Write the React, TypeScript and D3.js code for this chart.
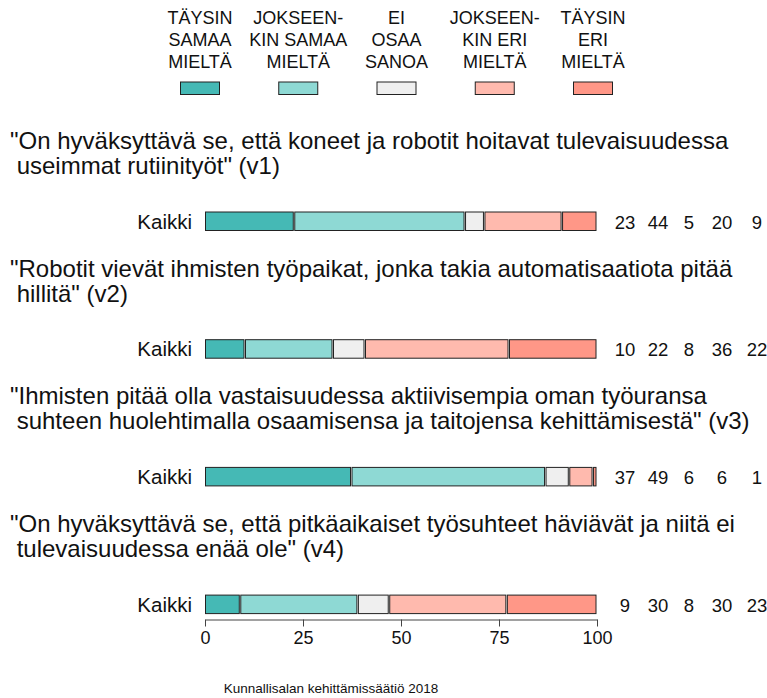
import React, { useEffect, useRef } from "react";
import * as d3 from "d3";

const categories = [
  "TÄYSIN SAMAA MIELTÄ",
  "JOKSEENKIN SAMAA MIELTÄ",
  "EI OSAA SANOA",
  "JOKSEENKIN ERI MIELTÄ",
  "TÄYSIN ERI MIELTÄ",
];
const legendLines = [
  ["TÄYSIN", "SAMAA", "MIELTÄ"],
  ["JOKSEEN-", "KIN SAMAA", "MIELTÄ"],
  ["EI", "OSAA", "SANOA"],
  ["JOKSEEN-", "KIN ERI", "MIELTÄ"],
  ["TÄYSIN", "ERI", "MIELTÄ"],
];
const colors = ["#45b9b5", "#8ed9d4", "#efefef", "#ffbaae", "#ff9787"];

const questions = [
  [
    "\"On hyväksyttävä se, että koneet ja robotit hoitavat tulevaisuudessa",
    " useimmat rutiinityöt\" (v1)",
  ],
  [
    "\"Robotit vievät ihmisten työpaikat, jonka takia automatisaatiota pitää",
    " hillitä\" (v2)",
  ],
  [
    "\"Ihmisten pitää olla vastaisuudessa aktiivisempia oman työuransa",
    " suhteen huolehtimalla osaamisensa ja taitojensa kehittämisestä\" (v3)",
  ],
  [
    "\"On hyväksyttävä se, että pitkäaikaiset työsuhteet häviävät ja niitä ei",
    " tulevaisuudessa enää ole\" (v4)",
  ],
];
const groupLabel = "Kaikki";

const v1 = [23, 44, 5, 20, 9];
const v2 = [10, 22, 8, 36, 22];
const v3 = [37, 49, 6, 6, 1];
const v4 = [9, 30, 8, 30, 23];
const series = [v1, v2, v3, v4];

const xTicks = [0, 25, 50, 75, 100];
const caption = "Kunnallisalan kehittämissäätiö 2018";

const FONT = "'Liberation Sans', Arial, Helvetica, sans-serif";

export default function App() {
  const ref = useRef<SVGSVGElement>(null);

  useEffect(() => {
    const svg = d3.select(ref.current);
    svg.selectAll("*").remove();
    svg.attr("font-family", FONT);

    const x = d3.scaleLinear().domain([0, 100]).range([205, 597]);
    const legendX = d3
      .scalePoint<number>()
      .domain(d3.range(categories.length))
      .range([200, 593]);
    const valueX = [625, 658, 689, 722, 757];
    const rowTop = 149;
    const rowStep = 127.7;
    const barOffset = 63;
    const barH = 18.5;

    // legend
    const leg = svg
      .append("g")
      .selectAll("g")
      .data(categories)
      .enter()
      .append("g")
      .attr("transform", (d, i) => `translate(${legendX(i)},0)`);
    leg
      .selectAll("text")
      .data((d, i) => legendLines[i])
      .enter()
      .append("text")
      .attr("x", 0)
      .attr("y", (d, j) => 24 + j * 22)
      .attr("text-anchor", "middle")
      .attr("font-size", 18)
      .attr("fill", "#111")
      .text((d) => d);
    leg
      .append("rect")
      .attr("x", -19.5)
      .attr("y", 82)
      .attr("width", 39)
      .attr("height", 12.5)
      .attr("fill", (d, i) => colors[i])
      .attr("stroke", "#222")
      .attr("stroke-width", 1);

    series.forEach((vals, qi) => {
      const base = rowTop + qi * rowStep;
      const g = svg.append("g");

      g.selectAll("text.title")
        .data(questions[qi])
        .enter()
        .append("text")
        .attr("class", "title")
        .attr("x", 10)
        .attr("y", (d, j) => base + j * 25)
        .attr("font-size", 24)
        .attr("fill", "#111")
        .style("white-space", "pre")
        .text((d) => d);

      const barY = base + barOffset;
      const total = d3.sum(vals);
      const cum = d3.cumsum(vals.map((v) => (v / total) * 100));
      const segs = vals.map((v, i) => ({
        i,
        x0: i === 0 ? 0 : cum[i - 1],
        x1: cum[i],
      }));

      g.append("text")
        .attr("x", 192)
        .attr("y", barY + barH / 2 + 7.5)
        .attr("text-anchor", "end")
        .attr("font-size", 20.5)
        .attr("fill", "#111")
        .text(groupLabel);

      g.selectAll("rect")
        .data(segs)
        .enter()
        .append("rect")
        .attr("x", (d) => x(d.x0) + 0.5)
        .attr("y", barY)
        .attr("width", (d) => Math.max(0.5, x(d.x1) - x(d.x0) - 1.5))
        .attr("height", barH)
        .attr("fill", (d) => colors[d.i])
        .attr("stroke", "#222")
        .attr("stroke-width", 1);

      g.selectAll("text.val")
        .data(vals)
        .enter()
        .append("text")
        .attr("class", "val")
        .attr("x", (d, i) => valueX[i])
        .attr("y", barY + barH / 2 + 7.5)
        .attr("text-anchor", "middle")
        .attr("font-size", 18.5)
        .attr("fill", "#111")
        .text((d) => d);
    });

    // axis
    const axisY = 619.5;
    const axis = svg
      .append("g")
      .attr("transform", `translate(0,${axisY})`)
      .call(d3.axisBottom(x).tickValues(xTicks).tickSize(7).tickSizeOuter(0).tickPadding(5));
    axis.select(".domain").attr("stroke", "#444");
    axis.selectAll(".tick line").attr("stroke", "#444");
    axis
      .selectAll(".tick text")
      .attr("font-family", FONT)
      .attr("font-size", 18)
      .attr("fill", "#111");

    svg
      .append("text")
      .attr("x", 331)
      .attr("y", 693)
      .attr("text-anchor", "middle")
      .attr("font-size", 13.5)
      .attr("fill", "#111")
      .text(caption);
  }, []);

  return (
    <div style={{ position: "absolute", left: 0, top: 0 }}>
      <svg ref={ref} width={767} height={698} style={{ display: "block", background: "#fff" }} />
    </div>
  );
}
